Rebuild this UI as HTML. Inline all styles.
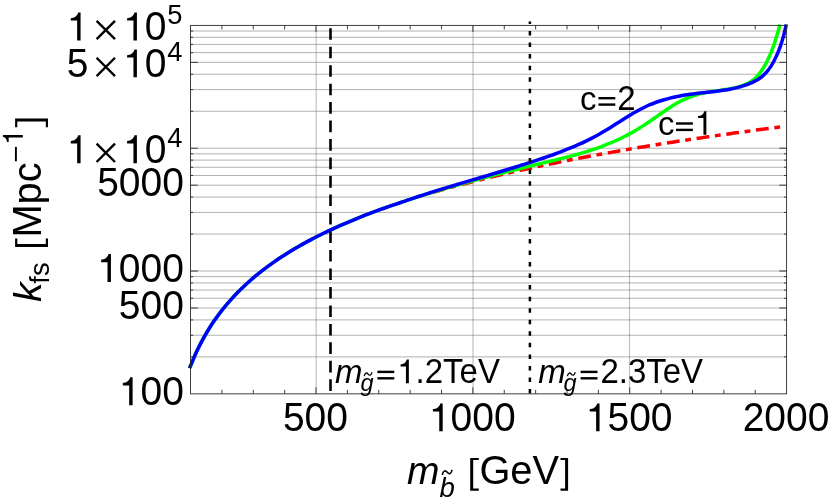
<!DOCTYPE html>
<html><head><meta charset="utf-8"><title>plot</title>
<style>html,body{margin:0;padding:0;background:#fff}svg{display:block;will-change:transform}</style></head>
<body>
<svg width="830" height="501" viewBox="0 0 830 501">
<rect width="830" height="501" fill="#fff"/>
<g stroke="#666" stroke-opacity="0.5" stroke-width="1" fill="none">
<line x1="190.55" x2="786.60" y1="356.88" y2="356.88"/>
<line x1="190.55" x2="786.60" y1="335.25" y2="335.25"/>
<line x1="190.55" x2="786.60" y1="319.91" y2="319.91"/>
<line x1="190.55" x2="786.60" y1="308.00" y2="308.00"/>
<line x1="190.55" x2="786.60" y1="298.28" y2="298.28"/>
<line x1="190.55" x2="786.60" y1="290.06" y2="290.06"/>
<line x1="190.55" x2="786.60" y1="282.94" y2="282.94"/>
<line x1="190.55" x2="786.60" y1="276.65" y2="276.65"/>
<line x1="190.55" x2="786.60" y1="271.03" y2="271.03"/>
<line x1="190.55" x2="786.60" y1="234.06" y2="234.06"/>
<line x1="190.55" x2="786.60" y1="212.43" y2="212.43"/>
<line x1="190.55" x2="786.60" y1="197.09" y2="197.09"/>
<line x1="190.55" x2="786.60" y1="185.19" y2="185.19"/>
<line x1="190.55" x2="786.60" y1="175.46" y2="175.46"/>
<line x1="190.55" x2="786.60" y1="167.24" y2="167.24"/>
<line x1="190.55" x2="786.60" y1="160.12" y2="160.12"/>
<line x1="190.55" x2="786.60" y1="153.84" y2="153.84"/>
<line x1="190.55" x2="786.60" y1="148.22" y2="148.22"/>
<line x1="190.55" x2="786.60" y1="111.25" y2="111.25"/>
<line x1="190.55" x2="786.60" y1="89.62" y2="89.62"/>
<line x1="190.55" x2="786.60" y1="74.27" y2="74.27"/>
<line x1="190.55" x2="786.60" y1="62.37" y2="62.37"/>
<line x1="190.55" x2="786.60" y1="52.65" y2="52.65"/>
<line x1="190.55" x2="786.60" y1="44.42" y2="44.42"/>
<line x1="190.55" x2="786.60" y1="37.30" y2="37.30"/>
<line x1="190.55" x2="786.60" y1="31.02" y2="31.02"/>
</g>
<g stroke="#666" stroke-opacity="0.42" stroke-width="1.15" fill="none">
<line x1="316.15" x2="316.15" y1="25.40" y2="393.85"/>
<line x1="473.00" x2="473.00" y1="25.40" y2="393.85"/>
<line x1="629.50" x2="629.50" y1="25.40" y2="393.85"/>
</g>
<g fill="none" stroke-width="3.5" stroke-linecap="butt" stroke-linejoin="round">
<path d="M432.28 192.65 C432.95 192.46 434.95 191.87 436.28 191.49 C437.62 191.10 438.95 190.72 440.28 190.34 C441.62 189.96 442.95 189.59 444.28 189.21 C445.62 188.84 446.95 188.47 448.28 188.10 C449.62 187.73 450.95 187.36 452.28 187.00 C453.62 186.63 454.95 186.27 456.28 185.91 C457.62 185.55 458.95 185.20 460.28 184.84 C461.62 184.49 462.95 184.14 464.28 183.79 C465.62 183.44 466.95 183.09 468.28 182.74 C469.62 182.40 470.95 182.06 472.28 181.72 C473.62 181.38 474.95 181.04 476.28 180.70 C477.62 180.36 478.95 180.03 480.28 179.70 C481.62 179.37 482.95 179.04 484.28 178.71 C485.62 178.38 486.95 178.05 488.28 177.73 C489.62 177.40 490.95 177.08 492.28 176.76 C493.62 176.44 494.95 176.12 496.28 175.81 C497.62 175.49 498.95 175.18 500.28 174.86 C501.62 174.55 502.95 174.24 504.28 173.93 C505.62 173.62 506.95 173.31 508.28 173.01 C509.62 172.70 510.95 172.40 512.28 172.10 C513.62 171.79 514.95 171.49 516.28 171.20 C517.62 170.90 518.95 170.60 520.28 170.30 C521.62 170.01 522.95 169.72 524.28 169.42 C525.62 169.13 526.95 168.84 528.28 168.55 C529.62 168.26 530.95 167.98 532.28 167.69 C533.62 167.40 534.95 167.12 536.28 166.84 C537.62 166.55 538.95 166.27 540.28 165.99 C541.62 165.71 542.95 165.43 544.28 165.16 C545.62 164.88 546.95 164.60 548.28 164.33 C549.62 164.06 550.95 163.78 552.28 163.51 C553.62 163.24 554.95 162.97 556.28 162.70 C557.62 162.43 558.95 162.17 560.28 161.90 C561.62 161.63 562.95 161.37 564.28 161.11 C565.62 160.84 566.95 160.58 568.28 160.32 C569.62 160.06 570.95 159.80 572.28 159.54 C573.62 159.28 574.95 159.03 576.28 158.77 C577.62 158.51 578.95 158.26 580.28 158.01 C581.62 157.75 582.95 157.50 584.28 157.25 C585.62 157.00 586.95 156.75 588.28 156.50 C589.62 156.25 590.95 156.00 592.28 155.76 C593.62 155.51 594.95 155.27 596.28 155.02 C597.62 154.78 598.95 154.54 600.28 154.29 C601.62 154.05 602.95 153.81 604.28 153.57 C605.62 153.33 606.95 153.09 608.28 152.86 C609.62 152.62 610.95 152.38 612.28 152.15 C613.62 151.91 614.95 151.68 616.28 151.44 C617.62 151.21 618.95 150.98 620.28 150.75 C621.62 150.51 622.95 150.28 624.28 150.06 C625.62 149.83 626.95 149.60 628.28 149.37 C629.62 149.14 630.95 148.92 632.28 148.69 C633.62 148.47 634.95 148.24 636.28 148.02 C637.62 147.79 638.95 147.57 640.28 147.35 C641.62 147.13 642.95 146.91 644.28 146.69 C645.62 146.47 646.95 146.25 648.28 146.03 C649.62 145.81 650.95 145.59 652.28 145.38 C653.62 145.16 654.95 144.95 656.28 144.73 C657.62 144.52 658.95 144.30 660.28 144.09 C661.62 143.88 662.95 143.67 664.28 143.45 C665.62 143.24 666.95 143.03 668.28 142.82 C669.62 142.61 670.95 142.40 672.28 142.20 C673.62 141.99 674.95 141.78 676.28 141.58 C677.62 141.37 678.95 141.16 680.28 140.96 C681.62 140.75 682.95 140.55 684.28 140.35 C685.62 140.14 686.95 139.94 688.28 139.74 C689.62 139.54 690.95 139.34 692.28 139.14 C693.62 138.94 694.95 138.74 696.28 138.54 C697.62 138.34 698.95 138.14 700.28 137.95 C701.62 137.75 702.95 137.55 704.28 137.36 C705.62 137.16 706.95 136.97 708.28 136.77 C709.62 136.58 710.95 136.38 712.28 136.19 C713.62 136.00 714.95 135.81 716.28 135.61 C717.62 135.42 718.95 135.23 720.28 135.04 C721.62 134.85 722.95 134.66 724.28 134.47 C725.62 134.28 726.95 134.10 728.28 133.91 C729.62 133.72 730.95 133.54 732.28 133.35 C733.62 133.16 734.95 132.98 736.28 132.79 C737.62 132.61 738.95 132.42 740.28 132.24 C741.62 132.06 742.95 131.87 744.28 131.69 C745.62 131.51 746.95 131.33 748.28 131.15 C749.62 130.96 750.95 130.78 752.28 130.60 C753.62 130.42 754.95 130.25 756.28 130.07 C757.62 129.89 758.95 129.71 760.28 129.53 C761.62 129.36 762.95 129.18 764.28 129.00 C765.62 128.83 766.95 128.65 768.28 128.47 C769.62 128.30 770.95 128.12 772.28 127.95 C773.62 127.78 774.95 127.60 776.28 127.43 C777.62 127.26 778.95 127.09 780.28 126.91 C781.62 126.74 783.40 126.51 784.28 126.40 C785.17 126.29 785.38 126.26 785.60 126.23" stroke="#ff0000" stroke-dasharray="12.8 5.7 5.8 5.7"/>
<path d="M189.60 368.19 C189.76 367.79 189.39 368.52 190.55 365.79 C191.71 363.05 194.55 356.10 196.55 351.78 C198.55 347.46 200.55 343.58 202.55 339.87 C204.55 336.16 206.55 332.76 208.55 329.50 C210.55 326.25 212.55 323.23 214.55 320.33 C216.55 317.43 218.55 314.71 220.55 312.10 C222.55 309.48 224.55 307.02 226.55 304.63 C228.55 302.25 230.55 299.99 232.55 297.81 C234.55 295.62 236.55 293.54 238.55 291.52 C240.55 289.50 242.55 287.57 244.55 285.69 C246.55 283.81 248.55 282.01 250.55 280.25 C252.55 278.50 254.55 276.81 256.55 275.17 C258.55 273.52 260.55 271.93 262.55 270.38 C264.55 268.83 266.55 267.33 268.55 265.87 C270.55 264.40 272.55 262.98 274.55 261.59 C276.55 260.21 278.55 258.86 280.55 257.54 C282.55 256.22 284.55 254.94 286.55 253.68 C288.55 252.42 290.55 251.20 292.55 249.99 C294.55 248.79 296.55 247.62 298.55 246.47 C300.55 245.33 302.55 244.20 304.55 243.10 C306.55 242.00 308.55 240.92 310.55 239.87 C312.55 238.81 314.55 237.77 316.55 236.76 C318.55 235.74 320.55 234.74 322.55 233.76 C324.55 232.78 326.55 231.82 328.55 230.88 C330.55 229.93 332.55 229.00 334.55 228.09 C336.55 227.18 338.55 226.28 340.55 225.40 C342.55 224.52 344.55 223.65 346.55 222.80 C348.55 221.94 350.55 221.10 352.55 220.27 C354.55 219.45 356.55 218.63 358.55 217.83 C360.55 217.03 362.55 216.24 364.55 215.46 C366.55 214.68 368.55 213.91 370.55 213.15 C372.55 212.40 374.55 211.65 376.55 210.91 C378.55 210.18 380.55 209.45 382.55 208.73 C384.55 208.02 386.55 207.31 388.55 206.61 C390.55 205.92 392.64 205.20 394.55 204.55 C396.46 203.90 398.26 203.30 400.00 202.72 C401.74 202.14 403.33 201.62 405.00 201.07 C406.67 200.53 408.33 199.98 410.00 199.43 C411.67 198.89 413.33 198.35 415.00 197.81 C416.67 197.27 418.33 196.74 420.00 196.21 C421.67 195.69 423.33 195.16 425.00 194.64 C426.67 194.13 428.33 193.61 430.00 193.10 C431.67 192.59 433.33 192.08 435.00 191.58 C436.67 191.08 438.33 190.58 440.00 190.09 C441.67 189.59 443.33 189.10 445.00 188.61 C446.67 188.13 448.33 187.64 450.00 187.16 C451.67 186.68 453.33 186.20 455.00 185.73 C456.67 185.26 458.33 184.78 460.00 184.32 C461.67 183.85 463.33 183.38 465.00 182.92 C466.67 182.46 468.33 182.00 470.00 181.55 C471.67 181.09 473.33 180.64 475.00 180.19 C476.67 179.74 478.33 179.29 480.00 178.84 C481.67 178.40 483.33 177.95 485.00 177.51 C486.67 177.07 488.33 176.64 490.00 176.20 C491.67 175.76 493.33 175.33 495.00 174.90 C496.67 174.47 498.33 174.04 500.00 173.61 C501.67 173.19 503.33 172.76 505.00 172.34 C506.67 171.91 508.33 171.49 510.00 171.07 C511.67 170.66 513.33 170.24 515.00 169.82 C516.67 169.41 518.33 168.99 520.00 168.58 C521.67 168.17 523.33 167.76 525.00 167.35 C526.67 166.94 528.33 166.53 530.00 166.13 C531.67 165.72 533.33 165.32 535.00 164.91 C536.67 164.51 538.33 164.11 540.00 163.71 C541.67 163.31 543.33 162.91 545.00 162.51 C546.67 162.11 548.33 161.71 550.00 161.31 C551.67 160.91 553.33 160.51 555.00 160.11 C556.67 159.70 558.33 159.29 560.00 158.88 C561.67 158.47 563.33 158.05 565.00 157.62 C566.67 157.20 568.33 156.77 570.00 156.32 C571.67 155.88 573.33 155.43 575.00 154.97 C576.67 154.51 578.33 154.04 580.00 153.56 C581.67 153.08 583.33 152.58 585.00 152.07 C586.67 151.56 588.33 151.04 590.00 150.50 C591.67 149.96 593.33 149.41 595.00 148.83 C596.67 148.26 598.33 147.67 600.00 147.06 C601.67 146.45 603.33 145.83 605.00 145.17 C606.67 144.52 608.33 143.85 610.00 143.16 C611.67 142.47 613.33 141.75 615.00 141.01 C616.67 140.27 618.33 139.50 620.00 138.71 C621.67 137.92 623.33 137.10 625.00 136.25 C626.67 135.41 628.33 134.53 630.00 133.63 C631.67 132.72 633.33 131.79 635.00 130.82 C636.67 129.85 638.33 128.86 640.00 127.83 C641.67 126.79 643.33 125.73 645.00 124.63 C646.67 123.53 648.33 122.40 650.00 121.25 C651.67 120.10 653.33 118.93 655.00 117.76 C656.67 116.59 658.33 115.40 660.00 114.24 C661.67 113.07 663.33 111.90 665.00 110.77 C666.67 109.64 668.33 108.51 670.00 107.44 C671.67 106.37 673.33 105.31 675.00 104.33 C676.67 103.34 678.33 102.40 680.00 101.52 C681.67 100.65 683.33 99.83 685.00 99.08 C686.67 98.33 688.33 97.65 690.00 97.01 C691.67 96.38 693.33 95.81 695.00 95.29 C696.67 94.77 698.33 94.32 700.00 93.90 C701.67 93.48 703.33 93.12 705.00 92.78 C706.67 92.45 708.33 92.16 710.00 91.87 C711.67 91.59 713.33 91.35 715.00 91.09 C716.67 90.84 718.33 90.61 720.00 90.36 C721.67 90.11 723.33 89.87 725.00 89.60 C726.67 89.33 728.33 89.05 730.00 88.73 C731.67 88.41 733.33 88.07 735.00 87.68 C736.67 87.28 738.92 86.65 740.00 86.36 C741.08 86.06 741.00 86.06 741.50 85.89 C742.00 85.73 742.50 85.57 743.00 85.39 C743.50 85.21 744.00 85.02 744.50 84.83 C745.00 84.63 745.50 84.42 746.00 84.20 C746.50 83.97 747.00 83.74 747.50 83.49 C748.00 83.23 748.50 82.97 749.00 82.68 C749.50 82.40 750.00 82.10 750.50 81.78 C751.00 81.45 751.50 81.12 752.00 80.75 C752.50 80.39 753.00 80.01 753.50 79.60 C754.00 79.19 754.50 78.76 755.00 78.31 C755.50 77.85 756.00 77.37 756.50 76.86 C757.00 76.35 757.50 75.82 758.00 75.25 C758.50 74.68 759.00 74.09 759.50 73.46 C760.00 72.83 760.50 72.17 761.00 71.48 C761.50 70.79 762.00 70.06 762.50 69.30 C763.00 68.54 763.50 67.74 764.00 66.90 C764.50 66.07 765.00 65.20 765.50 64.28 C766.00 63.37 766.50 62.42 767.00 61.43 C767.50 60.43 768.00 59.40 768.50 58.32 C769.00 57.23 769.50 56.11 770.00 54.94 C770.50 53.77 771.00 52.55 771.50 51.29 C772.00 50.02 772.50 48.70 773.00 47.34 C773.50 45.97 774.00 44.55 774.50 43.08 C775.00 41.61 775.50 40.08 776.00 38.50 C776.50 36.91 777.00 35.28 777.50 33.58 C778.00 31.88 778.58 29.80 779.00 28.30 C779.42 26.80 779.83 25.20 780.00 24.59" stroke="#00ff00"/>
<path d="M189.60 368.19 C189.76 367.79 189.39 368.52 190.55 365.79 C191.71 363.05 194.55 356.10 196.55 351.78 C198.55 347.46 200.55 343.58 202.55 339.87 C204.55 336.16 206.55 332.76 208.55 329.50 C210.55 326.25 212.55 323.23 214.55 320.33 C216.55 317.43 218.55 314.71 220.55 312.10 C222.55 309.48 224.55 307.02 226.55 304.63 C228.55 302.25 230.55 299.99 232.55 297.81 C234.55 295.62 236.55 293.54 238.55 291.52 C240.55 289.50 242.55 287.57 244.55 285.69 C246.55 283.81 248.55 282.01 250.55 280.25 C252.55 278.50 254.55 276.81 256.55 275.17 C258.55 273.52 260.55 271.93 262.55 270.38 C264.55 268.83 266.55 267.33 268.55 265.87 C270.55 264.40 272.55 262.98 274.55 261.59 C276.55 260.21 278.55 258.86 280.55 257.54 C282.55 256.22 284.55 254.94 286.55 253.68 C288.55 252.42 290.55 251.20 292.55 249.99 C294.55 248.79 296.55 247.62 298.55 246.47 C300.55 245.33 302.55 244.20 304.55 243.10 C306.55 242.00 308.55 240.92 310.55 239.87 C312.55 238.81 314.55 237.77 316.55 236.76 C318.55 235.74 320.55 234.74 322.55 233.76 C324.55 232.78 326.55 231.82 328.55 230.88 C330.55 229.93 332.55 229.00 334.55 228.09 C336.55 227.18 338.55 226.28 340.55 225.40 C342.55 224.52 344.55 223.65 346.55 222.80 C348.55 221.94 350.55 221.10 352.55 220.27 C354.55 219.45 356.55 218.63 358.55 217.83 C360.55 217.03 362.55 216.24 364.55 215.46 C366.55 214.68 368.55 213.91 370.55 213.15 C372.55 212.40 374.55 211.65 376.55 210.91 C378.55 210.18 380.55 209.45 382.55 208.73 C384.55 208.02 386.55 207.31 388.55 206.61 C390.55 205.92 392.64 205.20 394.55 204.55 C396.46 203.90 398.26 203.30 400.00 202.72 C401.74 202.13 403.33 201.61 405.00 201.05 C406.67 200.48 408.33 199.89 410.00 199.32 C411.67 198.75 413.33 198.19 415.00 197.63 C416.67 197.07 418.33 196.52 420.00 195.98 C421.67 195.43 423.33 194.89 425.00 194.35 C426.67 193.82 428.33 193.29 430.00 192.76 C431.67 192.23 433.33 191.71 435.00 191.19 C436.67 190.67 438.33 190.16 440.00 189.64 C441.67 189.13 443.33 188.62 445.00 188.12 C446.67 187.61 448.33 187.11 450.00 186.60 C451.67 186.10 453.33 185.60 455.00 185.11 C456.67 184.61 458.33 184.11 460.00 183.62 C461.67 183.13 463.33 182.63 465.00 182.14 C466.67 181.65 468.33 181.16 470.00 180.67 C471.67 180.18 473.33 179.69 475.00 179.20 C476.67 178.71 478.33 178.22 480.00 177.73 C481.67 177.24 483.33 176.75 485.00 176.26 C486.67 175.77 488.33 175.28 490.00 174.78 C491.67 174.29 493.33 173.79 495.00 173.30 C496.67 172.80 498.33 172.30 500.00 171.80 C501.67 171.30 503.33 170.80 505.00 170.30 C506.67 169.79 508.33 169.29 510.00 168.78 C511.67 168.27 513.33 167.75 515.00 167.24 C516.67 166.72 518.33 166.20 520.00 165.68 C521.67 165.16 523.33 164.63 525.00 164.10 C526.67 163.57 528.33 163.03 530.00 162.49 C531.67 161.95 533.33 161.41 535.00 160.86 C536.67 160.31 538.33 159.76 540.00 159.20 C541.67 158.64 543.33 158.08 545.00 157.51 C546.67 156.94 548.33 156.36 550.00 155.77 C551.67 155.19 553.33 154.60 555.00 153.99 C556.67 153.39 558.33 152.77 560.00 152.14 C561.67 151.52 563.33 150.88 565.00 150.22 C566.67 149.57 568.33 148.90 570.00 148.22 C571.67 147.53 573.33 146.83 575.00 146.11 C576.67 145.39 578.33 144.66 580.00 143.90 C581.67 143.14 583.33 142.37 585.00 141.57 C586.67 140.77 588.33 139.95 590.00 139.11 C591.67 138.26 593.33 137.39 595.00 136.50 C596.67 135.60 598.33 134.68 600.00 133.74 C601.67 132.79 603.33 131.81 605.00 130.81 C606.67 129.81 608.33 128.78 610.00 127.75 C611.67 126.71 613.33 125.66 615.00 124.60 C616.67 123.55 618.33 122.48 620.00 121.42 C621.67 120.37 623.33 119.31 625.00 118.27 C626.67 117.23 628.33 116.20 630.00 115.20 C631.67 114.19 633.33 113.20 635.00 112.25 C636.67 111.30 638.33 110.37 640.00 109.49 C641.67 108.61 643.33 107.77 645.00 106.98 C646.67 106.18 648.33 105.44 650.00 104.73 C651.67 104.03 653.33 103.37 655.00 102.75 C656.67 102.13 658.33 101.55 660.00 101.00 C661.67 100.45 663.33 99.95 665.00 99.47 C666.67 98.99 668.33 98.55 670.00 98.14 C671.67 97.72 673.33 97.34 675.00 96.98 C676.67 96.61 678.33 96.28 680.00 95.97 C681.67 95.65 683.33 95.37 685.00 95.09 C686.67 94.82 688.33 94.57 690.00 94.33 C691.67 94.09 693.33 93.87 695.00 93.65 C696.67 93.44 698.33 93.24 700.00 93.05 C701.67 92.85 703.33 92.67 705.00 92.49 C706.67 92.31 708.33 92.13 710.00 91.95 C711.67 91.77 713.33 91.59 715.00 91.39 C716.67 91.20 718.33 91.00 720.00 90.77 C721.67 90.55 723.33 90.32 725.00 90.05 C726.67 89.79 728.33 89.50 730.00 89.18 C731.67 88.86 733.33 88.51 735.00 88.12 C736.67 87.73 738.92 87.12 740.00 86.83 C741.08 86.55 741.00 86.55 741.50 86.40 C742.00 86.25 742.50 86.09 743.00 85.93 C743.50 85.77 744.00 85.61 744.50 85.44 C745.00 85.27 745.50 85.10 746.00 84.92 C746.50 84.75 747.00 84.56 747.50 84.38 C748.00 84.19 748.50 84.00 749.00 83.80 C749.50 83.60 750.00 83.40 750.50 83.19 C751.00 82.98 751.50 82.77 752.00 82.55 C752.50 82.33 753.00 82.10 753.50 81.87 C754.00 81.63 754.50 81.39 755.00 81.14 C755.50 80.88 756.00 80.62 756.50 80.34 C757.00 80.06 757.50 79.77 758.00 79.47 C758.50 79.16 759.00 78.84 759.50 78.49 C760.00 78.15 760.50 77.79 761.00 77.40 C761.50 77.02 762.00 76.62 762.50 76.19 C763.00 75.76 763.50 75.31 764.00 74.83 C764.50 74.35 765.00 73.85 765.50 73.31 C766.00 72.77 766.50 72.21 767.00 71.61 C767.50 71.02 768.00 70.39 768.50 69.73 C769.00 69.06 769.50 68.37 770.00 67.63 C770.50 66.90 771.00 66.13 771.50 65.32 C772.00 64.50 772.50 63.66 773.00 62.76 C773.50 61.87 774.00 60.93 774.50 59.95 C775.00 58.97 775.50 57.95 776.00 56.88 C776.50 55.80 777.00 54.68 777.50 53.51 C778.00 52.34 778.50 51.13 779.00 49.85 C779.50 48.57 780.00 47.24 780.50 45.82 C781.00 44.40 781.50 42.91 782.00 41.30 C782.50 39.69 783.00 37.99 783.50 36.15 C784.00 34.30 784.53 32.19 785.00 30.23 C785.47 28.27 786.08 25.35 786.30 24.37" stroke="#0000ff"/>
</g>
<line x1="330.5" x2="330.5" y1="28.2" y2="393.7" stroke="#000" stroke-width="2.6" stroke-dasharray="11.6 6.88"/>
<line x1="529.9" x2="529.9" y1="21.6" y2="393.7" stroke="#000" stroke-width="2.5" stroke-dasharray="4.5 7.05" stroke-dashoffset="2.15"/>
<g stroke="#2a2a2a" stroke-width="0.9" fill="none">
<rect x="190.55" y="25.40" width="596.05" height="368.45"/>
<line x1="221.92" x2="221.92" y1="393.85" y2="389.85"/>
<line x1="221.92" x2="221.92" y1="25.40" y2="29.40"/>
<line x1="253.29" x2="253.29" y1="393.85" y2="389.85"/>
<line x1="253.29" x2="253.29" y1="25.40" y2="29.40"/>
<line x1="284.66" x2="284.66" y1="393.85" y2="389.85"/>
<line x1="284.66" x2="284.66" y1="25.40" y2="29.40"/>
<line x1="316.03" x2="316.03" y1="393.85" y2="387.35"/>
<line x1="316.03" x2="316.03" y1="25.40" y2="31.90"/>
<line x1="347.41" x2="347.41" y1="393.85" y2="389.85"/>
<line x1="347.41" x2="347.41" y1="25.40" y2="29.40"/>
<line x1="378.78" x2="378.78" y1="393.85" y2="389.85"/>
<line x1="378.78" x2="378.78" y1="25.40" y2="29.40"/>
<line x1="410.15" x2="410.15" y1="393.85" y2="389.85"/>
<line x1="410.15" x2="410.15" y1="25.40" y2="29.40"/>
<line x1="441.52" x2="441.52" y1="393.85" y2="389.85"/>
<line x1="441.52" x2="441.52" y1="25.40" y2="29.40"/>
<line x1="472.89" x2="472.89" y1="393.85" y2="387.35"/>
<line x1="472.89" x2="472.89" y1="25.40" y2="31.90"/>
<line x1="504.26" x2="504.26" y1="393.85" y2="389.85"/>
<line x1="504.26" x2="504.26" y1="25.40" y2="29.40"/>
<line x1="535.63" x2="535.63" y1="393.85" y2="389.85"/>
<line x1="535.63" x2="535.63" y1="25.40" y2="29.40"/>
<line x1="567.00" x2="567.00" y1="393.85" y2="389.85"/>
<line x1="567.00" x2="567.00" y1="25.40" y2="29.40"/>
<line x1="598.37" x2="598.37" y1="393.85" y2="389.85"/>
<line x1="598.37" x2="598.37" y1="25.40" y2="29.40"/>
<line x1="629.74" x2="629.74" y1="393.85" y2="387.35"/>
<line x1="629.74" x2="629.74" y1="25.40" y2="31.90"/>
<line x1="661.12" x2="661.12" y1="393.85" y2="389.85"/>
<line x1="661.12" x2="661.12" y1="25.40" y2="29.40"/>
<line x1="692.49" x2="692.49" y1="393.85" y2="389.85"/>
<line x1="692.49" x2="692.49" y1="25.40" y2="29.40"/>
<line x1="723.86" x2="723.86" y1="393.85" y2="389.85"/>
<line x1="723.86" x2="723.86" y1="25.40" y2="29.40"/>
<line x1="755.23" x2="755.23" y1="393.85" y2="389.85"/>
<line x1="755.23" x2="755.23" y1="25.40" y2="29.40"/>
<line x1="190.55" x2="193.15" y1="356.88" y2="356.88"/>
<line x1="786.60" x2="784.00" y1="356.88" y2="356.88"/>
<line x1="190.55" x2="193.15" y1="335.25" y2="335.25"/>
<line x1="786.60" x2="784.00" y1="335.25" y2="335.25"/>
<line x1="190.55" x2="193.15" y1="319.91" y2="319.91"/>
<line x1="786.60" x2="784.00" y1="319.91" y2="319.91"/>
<line x1="190.55" x2="197.75" y1="308.00" y2="308.00"/>
<line x1="786.60" x2="779.40" y1="308.00" y2="308.00"/>
<line x1="190.55" x2="193.15" y1="298.28" y2="298.28"/>
<line x1="786.60" x2="784.00" y1="298.28" y2="298.28"/>
<line x1="190.55" x2="193.15" y1="290.06" y2="290.06"/>
<line x1="786.60" x2="784.00" y1="290.06" y2="290.06"/>
<line x1="190.55" x2="193.15" y1="282.94" y2="282.94"/>
<line x1="786.60" x2="784.00" y1="282.94" y2="282.94"/>
<line x1="190.55" x2="193.15" y1="276.65" y2="276.65"/>
<line x1="786.60" x2="784.00" y1="276.65" y2="276.65"/>
<line x1="190.55" x2="197.75" y1="271.03" y2="271.03"/>
<line x1="786.60" x2="779.40" y1="271.03" y2="271.03"/>
<line x1="190.55" x2="193.15" y1="234.06" y2="234.06"/>
<line x1="786.60" x2="784.00" y1="234.06" y2="234.06"/>
<line x1="190.55" x2="193.15" y1="212.43" y2="212.43"/>
<line x1="786.60" x2="784.00" y1="212.43" y2="212.43"/>
<line x1="190.55" x2="193.15" y1="197.09" y2="197.09"/>
<line x1="786.60" x2="784.00" y1="197.09" y2="197.09"/>
<line x1="190.55" x2="197.75" y1="185.19" y2="185.19"/>
<line x1="786.60" x2="779.40" y1="185.19" y2="185.19"/>
<line x1="190.55" x2="193.15" y1="175.46" y2="175.46"/>
<line x1="786.60" x2="784.00" y1="175.46" y2="175.46"/>
<line x1="190.55" x2="193.15" y1="167.24" y2="167.24"/>
<line x1="786.60" x2="784.00" y1="167.24" y2="167.24"/>
<line x1="190.55" x2="193.15" y1="160.12" y2="160.12"/>
<line x1="786.60" x2="784.00" y1="160.12" y2="160.12"/>
<line x1="190.55" x2="193.15" y1="153.84" y2="153.84"/>
<line x1="786.60" x2="784.00" y1="153.84" y2="153.84"/>
<line x1="190.55" x2="197.75" y1="148.22" y2="148.22"/>
<line x1="786.60" x2="779.40" y1="148.22" y2="148.22"/>
<line x1="190.55" x2="193.15" y1="111.25" y2="111.25"/>
<line x1="786.60" x2="784.00" y1="111.25" y2="111.25"/>
<line x1="190.55" x2="193.15" y1="89.62" y2="89.62"/>
<line x1="786.60" x2="784.00" y1="89.62" y2="89.62"/>
<line x1="190.55" x2="193.15" y1="74.27" y2="74.27"/>
<line x1="786.60" x2="784.00" y1="74.27" y2="74.27"/>
<line x1="190.55" x2="197.75" y1="62.37" y2="62.37"/>
<line x1="786.60" x2="779.40" y1="62.37" y2="62.37"/>
<line x1="190.55" x2="193.15" y1="52.65" y2="52.65"/>
<line x1="786.60" x2="784.00" y1="52.65" y2="52.65"/>
<line x1="190.55" x2="193.15" y1="44.42" y2="44.42"/>
<line x1="786.60" x2="784.00" y1="44.42" y2="44.42"/>
<line x1="190.55" x2="193.15" y1="37.30" y2="37.30"/>
<line x1="786.60" x2="784.00" y1="37.30" y2="37.30"/>
<line x1="190.55" x2="193.15" y1="31.02" y2="31.02"/>
<line x1="786.60" x2="784.00" y1="31.02" y2="31.02"/>
</g>
<g font-family="'Liberation Sans', sans-serif" fill="#000">
<text transform="translate(282.91 431.30) scale(1 1.040)" font-size="39">500</text>
<path d="M442.69 431.30 L439.26 431.30 L439.26 411.49 L432.90 411.49 L432.90 409.07 C436.14 408.99 439.14 407.43 440.31 403.38 L442.69 403.38 Z"/>
<text transform="translate(450.61 431.30) scale(1 1.040)" font-size="39">000</text>
<path d="M599.54 431.30 L596.11 431.30 L596.11 411.49 L589.75 411.49 L589.75 409.07 C592.99 408.99 595.99 407.43 597.16 403.38 L599.54 403.38 Z"/>
<text transform="translate(607.46 431.30) scale(1 1.040)" font-size="39">500</text>
<text transform="translate(742.63 431.30) scale(1 1.040)" font-size="39">2000</text>
<path d="M132.62 405.25 L129.18 405.25 L129.18 385.44 L122.83 385.44 L122.83 383.02 C126.06 382.94 129.07 381.38 130.24 377.33 L132.62 377.33 Z"/>
<text transform="translate(140.53 405.25) scale(1 1.040)" font-size="39">00</text>
<text transform="translate(118.85 319.40) scale(1 1.040)" font-size="39">500</text>
<path d="M110.93 282.03 L107.50 282.03 L107.50 262.22 L101.14 262.22 L101.14 259.80 C104.38 259.73 107.38 258.17 108.55 254.11 L110.93 254.11 Z"/>
<text transform="translate(118.85 282.03) scale(1 1.040)" font-size="39">000</text>
<text transform="translate(97.16 195.69) scale(1 1.040)" font-size="39">5000</text>
<path d="M80.58 40.40 L77.15 40.40 L77.15 20.59 L70.79 20.59 L70.79 18.17 C74.03 18.09 77.03 16.53 78.20 12.48 L80.58 12.48 Z"/>
<path d="M96.60 20.80 L115.00 39.20 M96.60 39.20 L115.00 20.80" stroke="#000" stroke-width="2.4" fill="none"/>
<path d="M136.90 40.40 L133.47 40.40 L133.47 20.59 L127.11 20.59 L127.11 18.17 C130.35 18.09 133.35 16.53 134.52 12.48 L136.90 12.48 Z"/>
<text transform="translate(144.82 40.40) scale(1 1.040)" font-size="39">0</text>
<text transform="translate(167.3 24.40) scale(1 1.04)" font-size="27.3">5</text>
<text transform="translate(66.82 77.37) scale(1 1.040)" font-size="39">5</text>
<path d="M96.60 57.77 L115.00 76.17 M96.60 76.17 L115.00 57.77" stroke="#000" stroke-width="2.4" fill="none"/>
<path d="M136.90 77.37 L133.47 77.37 L133.47 57.56 L127.11 57.56 L127.11 55.14 C130.35 55.06 133.35 53.50 134.52 49.45 L136.90 49.45 Z"/>
<text transform="translate(144.82 77.37) scale(1 1.040)" font-size="39">0</text>
<text transform="translate(167.3 61.37) scale(1 1.04)" font-size="27.3">4</text>
<path d="M80.58 163.22 L77.15 163.22 L77.15 143.40 L70.79 143.40 L70.79 140.99 C74.03 140.91 77.03 139.35 78.20 135.29 L80.58 135.29 Z"/>
<path d="M96.60 143.62 L115.00 162.02 M96.60 162.02 L115.00 143.62" stroke="#000" stroke-width="2.4" fill="none"/>
<path d="M136.90 163.22 L133.47 163.22 L133.47 143.40 L127.11 143.40 L127.11 140.99 C130.35 140.91 133.35 139.35 134.52 135.29 L136.90 135.29 Z"/>
<text transform="translate(144.82 163.22) scale(1 1.040)" font-size="39">0</text>
<text transform="translate(167.3 147.22) scale(1 1.04)" font-size="27.3">4</text>
<text transform="translate(579.90 109.50) scale(1 1.000)" font-size="33">c</text>
<rect x="598.40" y="97.00" width="16.90" height="2.40"/>
<rect x="598.40" y="103.40" width="16.90" height="2.40"/>
<text transform="translate(617.20 109.50) scale(1 1.040)" font-size="33">2</text>
<text transform="translate(658.00 134.80) scale(1 1.000)" font-size="33">c</text>
<rect x="676.00" y="122.30" width="16.90" height="2.40"/>
<rect x="676.00" y="128.70" width="16.90" height="2.40"/>
<path d="M706.35 134.80 L703.45 134.80 L703.45 118.04 L698.07 118.04 L698.07 115.99 C700.81 115.92 703.35 114.60 704.34 111.17 L706.35 111.17 Z"/>
<text transform="translate(335.00 383.20) scale(1 1.000)" font-size="33" font-style="italic">m</text>
<text transform="translate(360.40 390.50) scale(1 1.000)" font-size="23.5" font-style="italic">g</text>
<path d="M364.30 375.60 C365.21 372.45 366.81 372.45 368.10 374.10 S370.99 375.75 371.90 372.60" fill="none" stroke="#000" stroke-width="1.30" stroke-linecap="round"/>
<rect x="377.40" y="370.70" width="16.90" height="2.40"/>
<rect x="377.40" y="377.10" width="16.90" height="2.40"/>
<path d="M408.85 383.20 L405.94 383.20 L405.94 366.44 L400.57 366.44 L400.57 364.39 C403.31 364.32 405.85 363.00 406.84 359.57 L408.85 359.57 Z"/>
<text transform="translate(415.55 383.20) scale(1 1.040)" font-size="33">.2TeV</text>
<text transform="translate(538.20 383.20) scale(1 1.000)" font-size="33" font-style="italic">m</text>
<text transform="translate(563.60 390.50) scale(1 1.000)" font-size="23.5" font-style="italic">g</text>
<path d="M567.50 375.60 C568.41 372.45 570.01 372.45 571.30 374.10 S574.19 375.75 575.10 372.60" fill="none" stroke="#000" stroke-width="1.30" stroke-linecap="round"/>
<rect x="580.60" y="370.70" width="16.90" height="2.40"/>
<rect x="580.60" y="377.10" width="16.90" height="2.40"/>
<text transform="translate(600.40 383.20) scale(1 1.040)" font-size="33">2.3TeV</text>
<text transform="translate(407.00 484.10) scale(1 1.000)" font-size="39" font-style="italic">m</text>
<text transform="translate(439.60 496.60) scale(1 1.000)" font-size="27.6" font-style="italic">b</text>
<path d="M442.40 474.20 C443.55 470.21 445.57 470.21 447.20 472.30 S450.85 474.39 452.00 470.40" fill="none" stroke="#000" stroke-width="1.60" stroke-linecap="round"/>
<path d="M470.20 457.90 H478.80 V460.10 H473.20 V488.60 H478.80 V490.80 H470.20 Z"/>
<text transform="translate(479.40 484.10) scale(1 1.040)" font-size="39.8">GeV</text>
<path d="M568.10 457.90 H560.50 V460.10 H565.10 V488.60 H560.50 V490.80 H568.10 Z"/>
<g transform="translate(41.3 301) rotate(-90)">
<text transform="translate(-1.10 0.00) scale(1 1.000)" font-size="39" font-style="italic">k</text>
<text transform="translate(17.30 8.00) scale(1 1.000)" font-size="27.3">fs</text>
<path d="M54.10 -26.20 H62.50 V-24.00 H57.10 V4.50 H62.50 V6.70 H54.10 Z"/>
<text transform="translate(63.40 0.00) scale(1 1.040)" font-size="39.8">Mpc</text>
<rect x="139.7" y="-26.35" width="14.4" height="1.9"/>
<path d="M166.05 -18.50 L163.60 -18.50 L163.60 -32.62 L159.07 -32.62 L159.07 -34.35 C161.38 -34.40 163.52 -35.51 164.35 -38.40 L166.05 -38.40 Z"/>
<path d="M182.40 -26.20 H173.70 V-24.00 H179.40 V4.50 H173.70 V6.70 H182.40 Z"/>
</g>
</g>
</svg>
</body></html>
